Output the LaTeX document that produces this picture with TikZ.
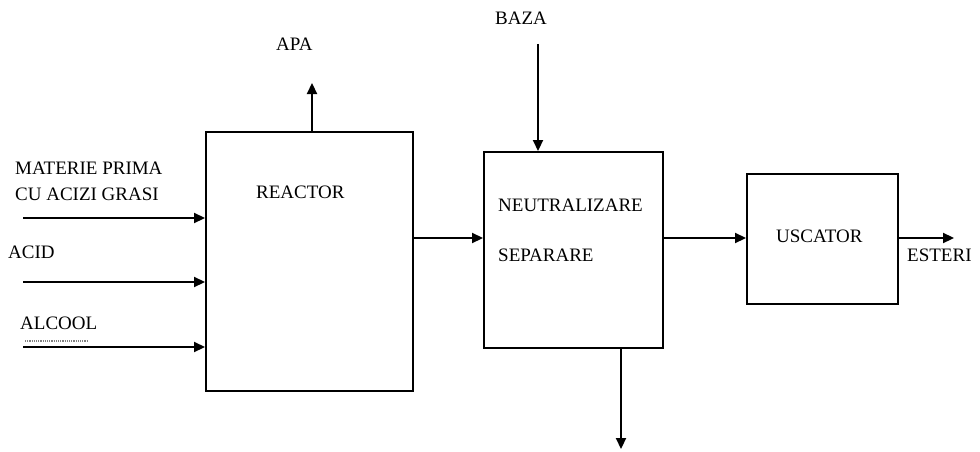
\documentclass[tikz,border=0pt]{standalone}
\usepackage{fontspec}
\setmainfont{Liberation Serif}
\usetikzlibrary{arrows.meta}
\begin{document}
\begin{tikzpicture}[x=1pt,y=-1pt,
 box/.style={draw,line width=2.2pt,inner sep=0,anchor=north west},
 lbl/.style={inner sep=0,anchor=west,font=\fontsize{19}{21}\selectfont},
 arr/.style={line width=2.2pt,-{Triangle[length=11pt,width=10pt]}}]
\useasboundingbox (0,0) rectangle (980,452);
\node[box,minimum width=207pt,minimum height=259pt] (reactor) at (205,131) {};
\node[box,minimum width=179pt,minimum height=196pt] (neut) at (483,151) {};
\node[box,minimum width=151pt,minimum height=130pt] (uscator) at (746,173) {};
% labels
\node[lbl] (l1) at (15,168) {MATERIE PRIMA};
\node[lbl] (l2) at (15,194) {CU ACIZI GRASI};
\node[lbl] (l3) at (8,252) {ACID};
\node[lbl] (l4) at (20,323) {ALCOOL};
\node[lbl] (l5) at (276,44) {APA};
\node[lbl] (l6) at (495,18) {BAZA};
\node[lbl] (l7) at (256,192) {REACTOR};
\node[lbl] (l8) at (498,205) {NEUTRALIZARE};
\node[lbl] (l9) at (498,255) {SEPARARE};
\node[lbl] (l10) at (776,236) {USCATOR};
\node[lbl] (l11) at (907,255) {ESTERI};
% free ends
\coordinate (in1) at (23,218);
\coordinate (in2) at (23,282);
\coordinate (in3) at (23,347);
\coordinate (apaTop) at (312,83);
\coordinate (bazaTop) at (538,44);
\coordinate (botEnd) at (621,449);
\coordinate (estEnd) at (954,238);
% connectors
\draw[arr] (in1) -- (in1 -| reactor.west);
\draw[arr] (in2) -- (in2 -| reactor.west);
\draw[arr] (in3) -- (in3 -| reactor.west);
\draw[arr] (apaTop |- reactor.north) -- (apaTop);
\draw[arr] (bazaTop) -- (bazaTop |- neut.north);
\draw[arr] (reactor.east |- estEnd) -- (neut.west |- estEnd);
\draw[arr] (neut.east |- estEnd) -- (uscator.west |- estEnd);
\draw[arr] (uscator.east |- estEnd) -- (estEnd);
\draw[arr] (botEnd |- neut.south) -- (botEnd);
\draw[gray,densely dotted,line width=1.2pt] (25,341) -- (87,341);
\end{tikzpicture}
\end{document}
